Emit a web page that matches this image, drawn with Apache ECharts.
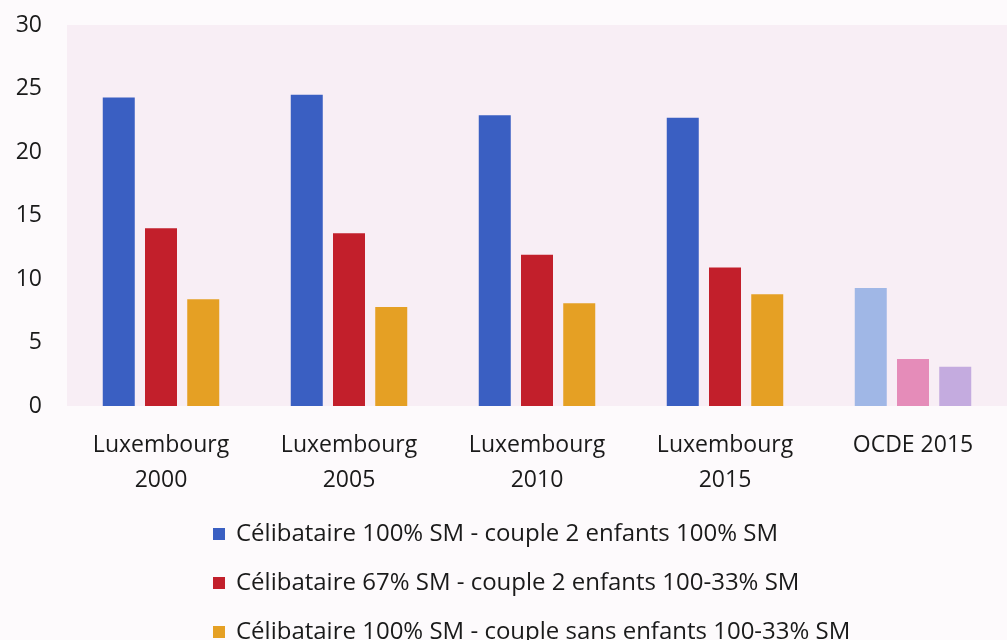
<!DOCTYPE html>
<html>
<head>
<meta charset="utf-8">
<script src="https://cdn.jsdelivr.net/npm/echarts@6/dist/echarts.min.js"></script>
<style>html,body{margin:0;padding:0;background:#fdfafc;}#c{width:1007px;height:640px;}</style>
</head>
<body>
<div id="c"></div>
<script>
const categories = ["Luxembourg\n2000", "Luxembourg\n2005", "Luxembourg\n2010", "Luxembourg\n2015", "OCDE 2015"];
const seriesNames = [
  "Célibataire 100% SM - couple 2 enfants 100% SM",
  "Célibataire 67% SM - couple 2 enfants 100-33% SM",
  "Célibataire 100% SM - couple sans enfants 100-33% SM"
];
const single100 = [24.3, 24.5, 22.9, 22.7, 9.3];
const single67 = [14.0, 13.6, 11.9, 10.9, 3.7];
const noChildren = [8.4, 7.8, 8.1, 8.8, 3.1];
const yTicks = [0, 5, 10, 15, 20, 25, 30];

const mainColors = ["#3a5fc2", "#c21f2b", "#e5a024"];
const ocdeColors = ["#a0b7e6", "#e58cb9", "#c4abdf"];
const allData = [single100, single67, noChildren];

const font = "'Open Sans', 'Noto Sans', sans-serif";
const legendTops = [522, 571, 620];
const chart = echarts.init(document.getElementById('c'), null, {renderer: 'canvas'});
chart.setOption({
  backgroundColor: '#fdfafc',
  animation: false,
  textStyle: {fontFamily: font},
  grid: {left: 67, top: 25, width: 950, height: 381, show: true, backgroundColor: '#f8eef5', borderWidth: 0},
  xAxis: {
    type: 'category', data: categories,
    axisLine: {show: false}, axisTick: {show: false},
    axisLabel: {fontSize: 23, color: '#1a1a1a', lineHeight: 35, margin: 22, fontFamily: font}
  },
  yAxis: {
    type: 'value', min: yTicks[0], max: yTicks[yTicks.length - 1], interval: 5,
    axisLine: {show: false}, axisTick: {show: false}, splitLine: {show: false},
    axisLabel: {fontSize: 23, color: '#1a1a1a', margin: 25, fontFamily: font}
  },
  legend: seriesNames.map((name, i) => ({
    orient: 'horizontal', left: 213, top: legendTops[i], padding: 0,
    itemWidth: 12, itemHeight: 12, icon: 'rect',
    textStyle: {fontSize: 24, color: '#1a1a1a', lineHeight: 24, fontFamily: font, padding: [0, 0, 0, 6]},
    data: [name]
  })),
  series: seriesNames.map((name, i) => ({
    name: name, type: 'bar', barWidth: 32, barGap: '32%',
    itemStyle: {color: mainColors[i]},
    data: allData[i].map((v, j) => j === categories.length - 1 ? {value: v, itemStyle: {color: ocdeColors[i]}} : v)
  }))
});
</script>
</body>
</html>
